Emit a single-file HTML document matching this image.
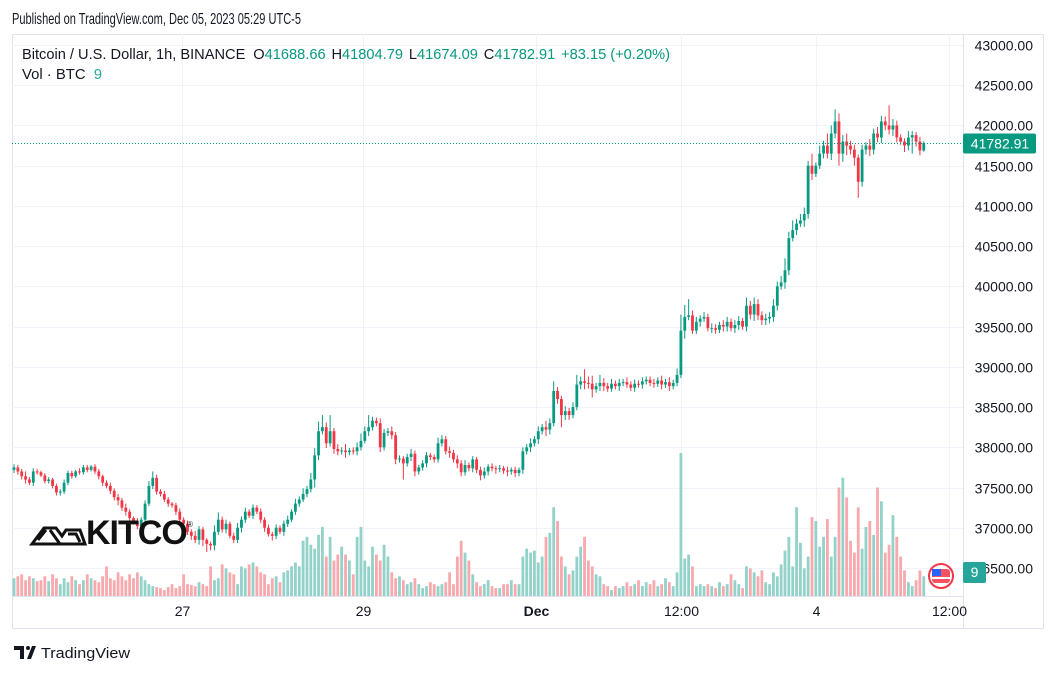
<!DOCTYPE html>
<html><head><meta charset="utf-8"><style>
body{margin:0;background:#fff;width:1056px;height:673px;overflow:hidden;font-family:"Liberation Sans",sans-serif;}
svg text{font-family:"Liberation Sans",sans-serif;}
</style></head><body>
<svg id="c" width="1056" height="673" xmlns="http://www.w3.org/2000/svg">
<text x="12" y="24" font-size="16" fill="#131722" textLength="289" lengthAdjust="spacingAndGlyphs">Published on TradingView.com, Dec 05, 2023 05:29 UTC-5</text>
<rect x="12.5" y="34.5" width="1031" height="594" fill="none" stroke="#e0e3eb"/>
<line x1="963.5" y1="34" x2="963.5" y2="628" stroke="#e0e3eb"/>
<line x1="12" y1="596.5" x2="963" y2="596.5" stroke="#e0e3eb"/>
<g id="grid"></g>
<g id="vol"></g>
<g id="candles"></g>
<g id="yaxis"></g>
<g id="xaxis"></g>
<text x="22" y="59" font-size="15" fill="#131722" textLength="648" lengthAdjust="spacingAndGlyphs">Bitcoin / U.S. Dollar, 1h, BINANCE <tspan dx="4">O</tspan><tspan fill="#089981">41688.66</tspan><tspan dx="6">H</tspan><tspan fill="#089981">41804.79</tspan><tspan dx="6">L</tspan><tspan fill="#089981">41674.09</tspan><tspan dx="6">C</tspan><tspan fill="#089981">41782.91</tspan><tspan dx="6" fill="#089981">+83.15 (+0.20%)</tspan></text>
<text x="22" y="79" font-size="15" fill="#131722" textLength="80" lengthAdjust="spacingAndGlyphs">Vol · BTC <tspan dx="4" fill="#26a69a">9</tspan></text>
<g>
<path d="M32 544 L44 528 L56 528 L62 536 L66 530 L80 530 L85 544 Z M38 540 L46 530 M50 530 L60 544 M68 534 L76 534 L80 542" fill="none" stroke="#111" stroke-width="3"/>
<text x="86" y="544" font-size="34" font-weight="bold" fill="#111" letter-spacing="-1">KITCO</text>
<text x="187" y="527" font-size="8" fill="#111">®</text>
</g>
<g><circle cx="941" cy="576" r="12" fill="#fff" stroke="#f23645" stroke-width="2"/><rect x="932" y="569" width="18" height="14" rx="3" fill="#f7525f"/><rect x="932" y="569" width="9" height="7" fill="#2962ff"/><rect x="932" y="577" width="18" height="2" fill="#fff"/></g>
<g><rect x="963" y="562" width="23" height="21" rx="2" fill="#26a69a"/><text x="974.5" y="577" font-size="14" fill="#fff" text-anchor="middle">9</text></g>
<g><path d="M14 646 h10 v13 h-4 v-9 h-6 Z M27 659 l5 -13 h4 l-5 13 Z" fill="#131722"/><circle cx="28" cy="648" r="2" fill="#131722"/><text x="41" y="658" font-size="15" fill="#131722" textLength="89" lengthAdjust="spacingAndGlyphs">TradingView</text></g>
</svg>
<script>
const closes=[37750,37700,37640,37600,37560,37700,37690,37650,37580,37600,37520,37440,
37450,37560,37680,37640,37700,37690,37750,37720,37760,37700,
37640,37560,37520,37460,37380,37340,37250,37200,37120,37080,37020,37100,
37300,37520,37620,37450,
37420,37350,37300,37280,37200,37100,37050,36950,36900,36850,36980,36850,36800,36780,
36950,37100,36980,37050,36900,36850,37000,37100,37200,37150,37250,37200,37100,37000,36920,36900,37000,36950,37050,37100,37200,37300,37350,37420,37480,
37600,37900,38200,38250,38050,38200,37980,37950,37960,37940,37960,37950,38000,
38080,38200,38250,38330,38300,38000,38180,38200,38150,37850,
37860,37800,37880,37920,37700,37750,37800,37900,37880,37850,
38050,38100,37950,37930,37850,37800,37690,37780,37740,37850,
37720,37650,37700,37760,37740,37730,37740,37710,37700,37720,37680,37720,
37950,38000,38050,38100,38200,38250,38220,38300,38700,38600,38400,38450,38400,38500,38780,38820,
38800,38790,38720,38760,38800,38760,38730,38790,38760,38800,38810,38780,38740,38790,38780,38820,38840,38800,38790,38830,38780,38810,38760,38800,38900,
39450,39620,39640,39450,39560,39600,39620,39480,39480,39460,39520,39500,39560,39480,39520,39570,39500,39760,39650,39780,39640,39580,39600,39620,39760,
40000,40050,40200,40600,40700,40780,40820,40900,41500,41400,
41500,41650,41750,41650,41900,42050,41650,41800,41750,41700,41600,41300,41700,41750,41700,41900,41850,42050,42000,41950,42000,41850,41800,41750,41850,41880,41800,41688.66,41782.91];
const wickHi=[40,30,30,60,30,40,30,20,30,30,20,30, 30,40,30,30,20,40,30,30,20,30, 30,20,30,40,30,40,30,50,30,20,40,30, 40,60,80,40, 30,40,30,20,30,40,30,40,30,60,40,30,20,30,
80,90,40,50,30,40,60,40,50,30,40,30,40,30,40,30,40,30,40,50,30,60,40,70,40,
80,90,120,150,60,200,40,60,40,80,30,40,60,
90,60,150,50,40,60,50,40,60,40, 40,30,40,60,40,30,40,40,30,30, 70,50,40,60,40,50,40,60,30,40, 30,40,50,30,40,30,40,30,50,30,40,30,
50,40,60,40,60,40,80,60,120,50,40,60,40,60,120,60,
150,80,100,40,100,60,40,60,40,50,40,60,40,50,40,50,40,40,50,40,60,40,60,40,80,
200,150,200,60,60,40,60,40,60,50,40,60,60,40,60,60,40,100,60,80,60,50,60,60,80,
60,80,150,80,120,60,80,80,60,150,
40,100,60,150,100,150,100,80,100,60,60,40,60,40,80,60,80,70,60,250,80,60,40,40,80,50,40,60,21.88];
const wickLo=[40,40,40,50,30,40,30,20,30,30,30,40, 40,30,30,30,20,30,30,30,20,30, 40,40,30,40,40,60,40,50,60,40,40,30, 40,30,40,40, 30,30,40,30,40,30,50,40,50,40,60,80,100,60,
60,40,40,50,30,40,40,60,40,30,40,30,40,50,30,60,40,30,50,40,30,40,40,30,40,
40,100,60,40,60,40,60,50,40,70,40,40,50,
40,30,60,40,40,60,40,40,50,60, 40,200,40,50,60,40,40,50,40,40, 40,40,40,60,40,60,50,40,40,50, 40,60,40,50,40,60,40,40,60,40,50,40,
50,40,60,40,60,40,80,60,40,60,150,60,60,40,40,60,
80,60,100,40,60,60,40,40,40,60,40,40,40,50,40,50,40,40,50,40,60,40,60,40,40,
40,100,40,40,40,60,40,40,60,50,40,60,60,40,60,60,40,60,60,80,60,60,60,60,60,
60,40,80,60,40,60,40,80,60,80,
40,40,60,60,80,60,150,100,120,60,100,200,60,60,80,60,60,70,60,60,80,60,40,80,60,200,60,60,14.57];
const volumes=[18,20,22,16,20,18,15,16,20,15,22,18,
12,18,14,20,16,12,16,22,18,16,
14,20,30,18,16,24,20,16,22,18,24,20,
16,12,10,9,
8,6,9,12,8,10,22,12,11,10,14,12,10,30,
16,18,32,28,24,22,12,30,28,32,34,30,24,22,12,18,20,14,24,26,30,34,30,56,60,
52,48,62,70,40,60,36,42,50,42,36,22,60,
70,36,30,50,42,36,52,40,24,18,
20,16,12,14,18,12,8,10,14,12,
10,12,14,24,12,40,56,44,36,22,
14,10,12,16,10,8,8,12,12,16,12,12,
40,48,44,46,34,40,60,64,90,76,40,30,22,26,40,50,
60,36,30,22,20,12,10,6,10,8,10,14,10,12,16,10,14,12,16,10,12,18,14,10,24,
145,38,42,30,10,12,10,12,10,8,14,10,12,22,16,12,8,30,28,24,20,26,14,12,24,
20,32,46,60,30,90,54,28,40,80,
76,50,60,78,40,60,110,120,100,56,44,90,48,70,76,62,110,96,44,52,82,60,40,26,14,10,16,26,20];
const priceTicks=[43000,42500,42000,41500,41000,40500,40000,39500,39000,38500,38000,37500,37000,36500];
const timeLabels=["27","29","Dec","12:00","4","12:00"];
const timeIdx=[43.5,90.5,135.5,173,208,242.5];
const lastPrice=41782.91;

const NS="http://www.w3.org/2000/svg";
const X0=14, DX=3.855;
const xOf=i=>X0+i*DX;
const yOf=p=>45+(43000-p)*0.08046;
const VMAX=145, VBASE=596, VH=143;
const vh=v=>v/VMAX*VH;
function mk(tag,attrs,parent){const e=document.createElementNS(NS,tag);for(const k in attrs)e.setAttribute(k,attrs[k]);parent.appendChild(e);return e;}
const grid=document.getElementById('grid'),vol=document.getElementById('vol'),cg=document.getElementById('candles'),ya=document.getElementById('yaxis'),xa=document.getElementById('xaxis');
priceTicks.forEach(p=>{
  const y=Math.round(yOf(p))+0.5;
  const l=mk('line',{x1:12,x2:963,y1:y,y2:y,stroke:'#f0f3fa'},grid);
  
  
  const t=mk('text',{x:1033,y:y+5,'font-size':14,fill:'#131722','text-anchor':'end'},ya);
  t.textContent=p.toFixed(2);
  
  
});
timeLabels.forEach((s,k)=>{
  const x=Math.round(xOf(timeIdx[k]))+0.5;
  const l=mk('line',{x1:x,x2:x,y1:34,y2:596,stroke:'#f0f3fa'},grid);
  
  
  const t=mk('text',{x:x,y:616,'font-size':14,fill:'#131722','text-anchor':'middle','font-weight':s==='Dec'?'bold':'normal'},xa);
  t.textContent=s;
  
  
});
for(let i=0;i<closes.length;i++){
  const c=closes[i], o=i?closes[i-1]:37720;
  const up=c>=o, col=up?'#089981':'#f23645';
  const hi=Math.max(o,c)+wickHi[i], lo=Math.min(o,c)-wickLo[i];
  const x=xOf(i);
  const h=vh(volumes[i]);
  const vb=mk('rect',{x:x-1.4,y:VBASE-h,width:2.8,height:h,fill:up?'#92d2c9':'#f7a9ae'},vol);
  
  
  const w=mk('line',{x1:x,x2:x,y1:yOf(hi),y2:yOf(lo),stroke:col,'stroke-width':1},cg);
  
  
  const yt=yOf(Math.max(o,c)), yb=yOf(Math.min(o,c));
  const b=mk('rect',{x:x-1.4,y:yt,width:2.8,height:Math.max(1,yb-yt),fill:col},cg);
  
  
}
const ly=Math.round(yOf(lastPrice))+0.5;
const dl=mk('line',{x1:12,x2:963,y1:ly,y2:ly,stroke:'#089981','stroke-dasharray':'1 2'},cg);


const lb=mk('rect',{x:963,y:ly-10,width:73,height:20,rx:2,fill:'#089981'},ya);


const lt=mk('text',{x:1000,y:ly+5,'font-size':14,fill:'#fff','text-anchor':'middle'},ya);
lt.textContent=lastPrice.toFixed(2);


</script>
</body></html>
